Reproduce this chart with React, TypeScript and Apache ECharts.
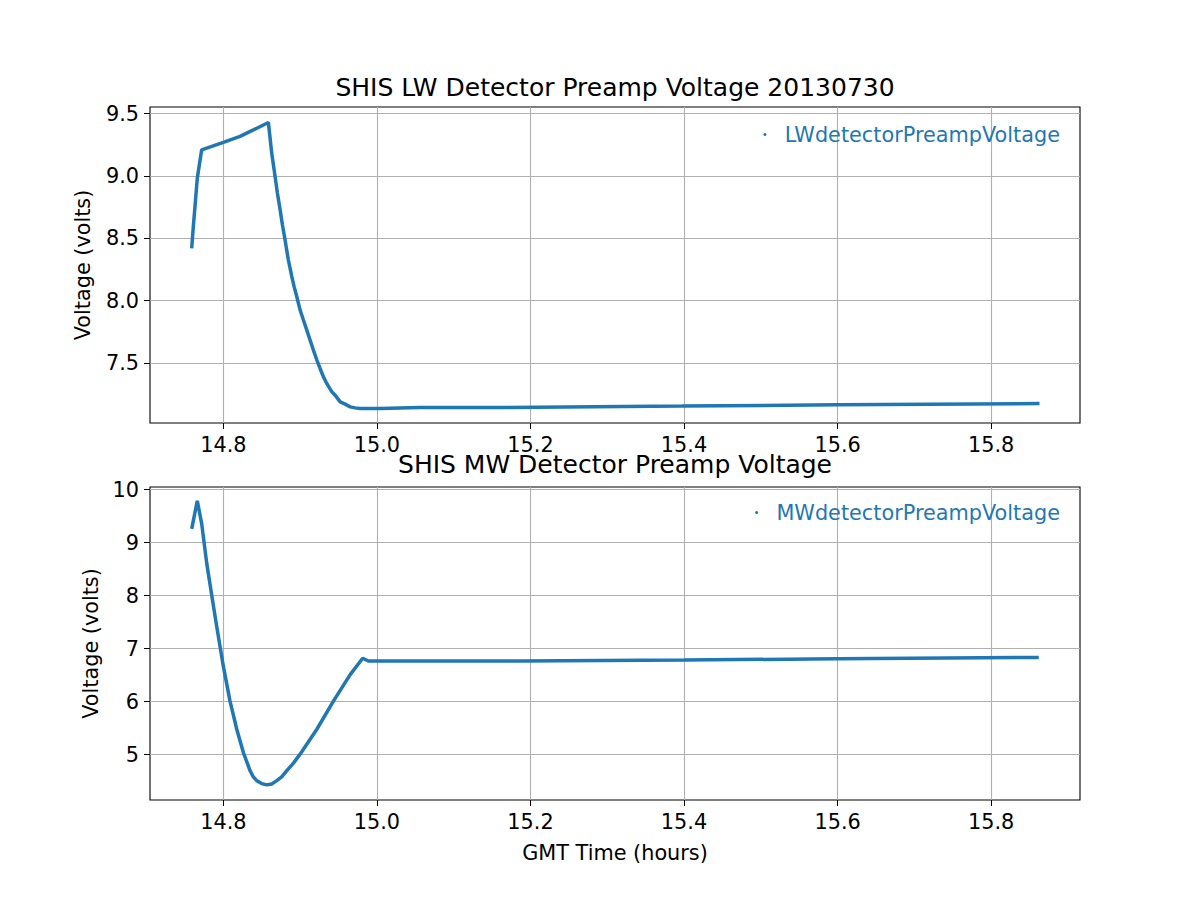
import React, { useEffect, useRef } from "react";
import * as echarts from "echarts";

const xTicks = [14.8, 15.0, 15.2, 15.4, 15.6, 15.8];
const lwTicks = [7.5, 8.0, 8.5, 9.0, 9.5];
const mwTicks = [5, 6, 7, 8, 9, 10];

const lwTime = [
  14.7588, 14.7609, 14.7631, 14.7661, 14.7718, 14.8, 14.8218, 14.8391, 14.8587,
  14.863, 14.8674, 14.8704, 14.874, 14.877, 14.8804, 14.8847, 14.8892, 14.8922,
  14.8957, 14.9, 14.9043, 14.9087, 14.913, 14.9173, 14.9218, 14.926, 14.9304,
  14.9347, 14.9413, 14.9456, 14.9522, 14.9587, 14.9652, 14.9717, 14.978, 15.004,
  15.056, 15.157, 15.397, 15.6, 15.863,
];
const lwVolt = [
  8.42, 8.594, 8.755, 8.983, 9.21, 9.27, 9.318, 9.37, 9.43,
  9.184, 8.996, 8.863, 8.728, 8.607, 8.487, 8.326, 8.192, 8.112,
  8.031, 7.924, 7.844, 7.763, 7.683, 7.603, 7.523, 7.455, 7.388,
  7.335, 7.268, 7.241, 7.187, 7.169, 7.147, 7.139, 7.134, 7.134,
  7.142, 7.142, 7.153, 7.163, 7.174,
];

const mwTime = [
  14.7588, 14.7661, 14.7718, 14.7784, 14.7849, 14.7914, 14.8, 14.8087, 14.8175,
  14.8261, 14.8348, 14.8391, 14.8435, 14.85, 14.8566, 14.863, 14.8696, 14.876,
  14.8827, 14.8913, 14.9, 14.9218, 14.9434, 14.9652, 14.9815, 14.989, 15.19,
  15.4, 15.6, 15.862,
];
const mwVolt = [
  9.26, 9.79, 9.36, 8.61, 8.01, 7.42, 6.67, 6.01, 5.48,
  5.04, 4.7, 4.58, 4.51, 4.455, 4.43, 4.448, 4.51, 4.58,
  4.7, 4.84, 5.01, 5.48, 6.01, 6.51, 6.82, 6.767, 6.767,
  6.786, 6.81, 6.835,
];

const FONT = "DejaVu Sans";
const BLUE = "#1f77b4";
const TICK_FS = 20.8;

function xAxisFor(gridIndex: number, withName: boolean) {
  return {
    type: "value",
    gridIndex,
    min: 14.7045,
    max: 15.9157,
    splitNumber: 6,
    name: withName ? "GMT Time (hours)" : "",
    nameLocation: "middle",
    nameGap: 42,
    nameTextStyle: { fontFamily: FONT, fontSize: TICK_FS, color: "#000" },
    axisLine: { show: false },
    axisTick: {
      show: true,
      customValues: xTicks,
      length: 6,
      inside: false,
      lineStyle: { color: "#000", width: 1 },
    },
    axisLabel: {
      customValues: xTicks,
      margin: 11,
      fontFamily: FONT,
      fontSize: TICK_FS,
      color: "#000",
      formatter: (v: number) => v.toFixed(1),
    },
    splitLine: { show: true, lineStyle: { color: "#b0b0b0", width: 1.1 } },
  };
}

function yAxisFor(
  gridIndex: number,
  min: number,
  max: number,
  ticks: number[],
  decimals: number,
  gap: number
) {
  return {
    type: "value",
    gridIndex,
    min,
    max,
    splitNumber: 5,
    name: "Voltage (volts)",
    nameLocation: "middle",
    nameRotate: 90,
    nameGap: gap,
    nameTextStyle: { fontFamily: FONT, fontSize: TICK_FS, color: "#000" },
    axisLine: { show: false },
    axisTick: {
      show: true,
      customValues: ticks,
      length: 6,
      inside: false,
      lineStyle: { color: "#000", width: 1 },
    },
    axisLabel: {
      customValues: ticks,
      margin: 11,
      fontFamily: FONT,
      fontSize: TICK_FS,
      color: "#000",
      formatter: (v: number) => v.toFixed(decimals),
    },
    splitLine: { show: true, lineStyle: { color: "#b0b0b0", width: 1.1 } },
  };
}

export default function App() {
  const ref = useRef<HTMLDivElement>(null);

  useEffect(() => {
    if (!ref.current) return;
    const chart = echarts.init(ref.current, undefined, { renderer: "svg" });
    const lwData = lwTime.map((t, i) => [t, lwVolt[i]]);
    const mwData = mwTime.map((t, i) => [t, mwVolt[i]]);
    const titleStyle = { fontFamily: FONT, fontSize: 25, fontWeight: "normal", color: "#000" };
    const legendBase = {
      right: 140,
      icon: "circle",
      itemWidth: 3,
      itemHeight: 3,
      padding: 0,
      formatter: (n: string) => "  " + n,
      textStyle: { fontFamily: FONT, fontSize: TICK_FS, color: BLUE },
    };
    chart.setOption({
      animation: false,
      backgroundColor: "#fff",
      title: [
        {
          text: "SHIS LW Detector Preamp Voltage 20130730",
          left: 615,
          top: 75,
          textAlign: "center",
          padding: 0,
          textStyle: titleStyle,
        },
        {
          text: "SHIS MW Detector Preamp Voltage",
          left: 615,
          top: 452,
          textAlign: "center",
          padding: 0,
          textStyle: titleStyle,
        },
      ],
      legend: [
        { ...legendBase, data: ["LWdetectorPreampVoltage"], top: 124 },
        { ...legendBase, data: ["MWdetectorPreampVoltage"], top: 502 },
      ],
      grid: [
        {
          left: 150,
          top: 107,
          width: 930,
          height: 316,
          show: true,
          borderColor: "#000",
          borderWidth: 1.1,
          backgroundColor: "transparent",
        },
        {
          left: 150,
          top: 487,
          width: 930,
          height: 313,
          show: true,
          borderColor: "#000",
          borderWidth: 1.1,
          backgroundColor: "transparent",
        },
      ],
      xAxis: [xAxisFor(0, false), xAxisFor(1, true)],
      yAxis: [
        yAxisFor(0, 7.0175, 9.554, lwTicks, 1, 57),
        yAxisFor(1, 4.145, 10.051, mwTicks, 0, 49),
      ],
      series: [
        {
          name: "LWdetectorPreampVoltage",
          type: "line",
          xAxisIndex: 0,
          yAxisIndex: 0,
          data: lwData,
          symbol: "none",
          color: BLUE,
          lineStyle: { color: BLUE, width: 3.5 },
        },
        {
          name: "MWdetectorPreampVoltage",
          type: "line",
          xAxisIndex: 1,
          yAxisIndex: 1,
          data: mwData,
          symbol: "none",
          color: BLUE,
          lineStyle: { color: BLUE, width: 3.5 },
        },
      ],
    });
    return () => chart.dispose();
  }, []);

  return (
    <div
      ref={ref}
      style={{ position: "absolute", left: 0, top: 0, width: 1200, height: 900 }}
    />
  );
}
